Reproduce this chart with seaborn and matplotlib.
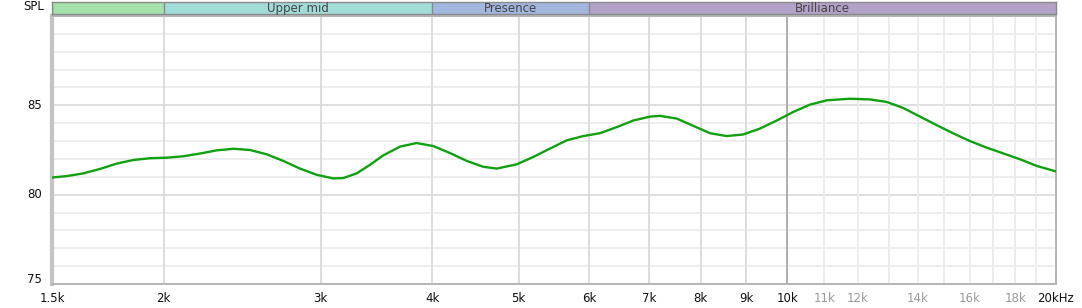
import numpy as np
import pandas as pd
import matplotlib
matplotlib.use("Agg")
import matplotlib.pyplot as plt
import seaborn as sns
from matplotlib.ticker import FixedLocator, NullFormatter, NullLocator

# ---- data ----
freq_hz = [1500, 1558, 1626, 1698, 1773, 1850, 1932, 2017, 2105, 2197, 2294,
           2395, 2500, 2610, 2724, 2844, 2970, 3099, 3180, 3292, 3407, 3526,
           3682, 3843, 4012, 4188, 4373, 4564, 4725, 4975, 5192, 5421, 5660,
           5907, 6167, 6439, 6721, 7017, 7200, 7517, 7846, 8192, 8552, 8926,
           9319, 9730, 10155, 10602, 11069, 11755, 12378, 12923, 13488, 14082,
           14702, 15345, 16021, 16726, 17458, 18227, 19029, 20000]
spl_db = [80.96, 81.04, 81.19, 81.44, 81.74, 81.94, 82.04, 82.07, 82.15, 82.30, 82.48,
          82.57, 82.50, 82.26, 81.89, 81.46, 81.11, 80.91, 80.93, 81.19, 81.67, 82.20,
          82.69, 82.89, 82.72, 82.33, 81.89, 81.56, 81.46, 81.70, 82.11, 82.58, 83.04,
          83.28, 83.44, 83.78, 84.15, 84.37, 84.41, 84.26, 83.85, 83.44, 83.28, 83.37,
          83.70, 84.15, 84.63, 85.04, 85.28, 85.37, 85.33, 85.19, 84.85, 84.37,
          83.89, 83.43, 83.00, 82.63, 82.31, 81.98, 81.61, 81.30]

band_names = ["", "Upper mid", "Presence", "Brilliance"]
band_edges = [1500, 2000, 4000, 6000, 20000]
band_colors = ["#a3e2aa", "#a2dcd8", "#a2b6de", "#b2a2c8"]

major_ticks = [1500, 2000, 3000, 4000, 5000, 6000, 7000, 8000, 9000, 10000, 20000]
major_labels = ["1.5k", "2k", "3k", "4k", "5k", "6k", "7k", "8k", "9k", "10k", "20kHz"]
minor_ticks = [11000, 12000, 14000, 16000, 18000]
minor_labels = ["11k", "12k", "14k", "16k", "18k"]
minor_grid = [11000, 12000, 13000, 14000, 15000, 16000, 17000, 18000, 19000]
y_ticks = [75, 80, 85]

df = pd.DataFrame({"freq": freq_hz, "spl": spl_db})

sns.set_style("white")
plt.rcParams["font.family"] = ["DejaVu Sans"]

W, H = 1082, 308
fig = plt.figure(figsize=(W / 100, H / 100), dpi=100)
L, R, T, B = 52, 1056, 16, 284
ax = fig.add_axes([L / W, 1 - B / H, (R - L) / W, (B - T) / H])
ax.set_xscale("log")
ax.set_xlim(1500, 20000)
ax.set_ylim(75, 90)

# grid
for yv in range(76, 90):
    ax.axhline(yv, color="#dcdcdc" if yv % 5 == 0 else "#ececec", lw=1.3, zorder=0)
for xv in major_ticks[1:-1]:
    ax.axvline(xv, color="#a8a8a8" if xv == 10000 else "#dadada", lw=1.3, zorder=0)
for xv in minor_grid:
    ax.axvline(xv, color="#ececec", lw=1.3, zorder=0)

sns.lineplot(data=df, x="freq", y="spl", ax=ax, color="#10a010", lw=1.7, zorder=3,
             solid_joinstyle="round", solid_capstyle="round")

ax.xaxis.set_major_locator(FixedLocator([]))
ax.xaxis.set_minor_locator(NullLocator())
ax.xaxis.set_minor_formatter(NullFormatter())
ax.set_yticks([])
ax.set_xlabel("")
ax.set_ylabel("")

for f, lab in zip(major_ticks, major_labels):
    ax.annotate(lab, (f, 75), xycoords="data", xytext=(0, -6), textcoords="offset points",
                ha="center", va="top", fontsize=8.5, color="#111111", annotation_clip=False)
for f, lab in zip(minor_ticks, minor_labels):
    ax.annotate(lab, (f, 75), xycoords="data", xytext=(0, -6), textcoords="offset points",
                ha="center", va="top", fontsize=8.5, color="#999999", annotation_clip=False)
for yv in y_ticks:
    dy = 3 if yv == 75 else 0
    ax.annotate(str(yv), (1500, yv), xycoords="data", xytext=(-7, dy), textcoords="offset points",
                ha="right", va="center", fontsize=8.5, color="#111111", annotation_clip=False)

for side in ["top", "right", "bottom"]:
    ax.spines[side].set_color("#b4b4b4")
    ax.spines[side].set_linewidth(1.4)
ax.spines["left"].set_color("#c4c4c4")
ax.spines["left"].set_linewidth(3)

# frequency bands strip
bax = fig.add_axes([L / W, 1 - 14 / H, (R - L) / W, 12 / H])
bax.set_xscale("log")
bax.set_xlim(1500, 20000)
bax.set_ylim(0, 1)
for i, name in enumerate(band_names):
    lo, hi = band_edges[i], band_edges[i + 1]
    bax.axvspan(lo, hi, color=band_colors[i], lw=0)
    bax.axvline(lo, color="#8a8a8a", lw=1)
    if name:
        bax.text(np.sqrt(lo * hi), 0.45, name, ha="center", va="center",
                 fontsize=8.5, color="#444444")
bax.set_xticks([])
bax.set_yticks([])
bax.xaxis.set_minor_locator(NullLocator())
for s in bax.spines.values():
    s.set_color("#8a8a8a")
    s.set_linewidth(1)

fig.text(44 / W, 1 - 7 / H, "SPL", ha="right", va="center", fontsize=8.5, color="#111111")

fig.savefig("out.png", dpi=100, facecolor="white")
